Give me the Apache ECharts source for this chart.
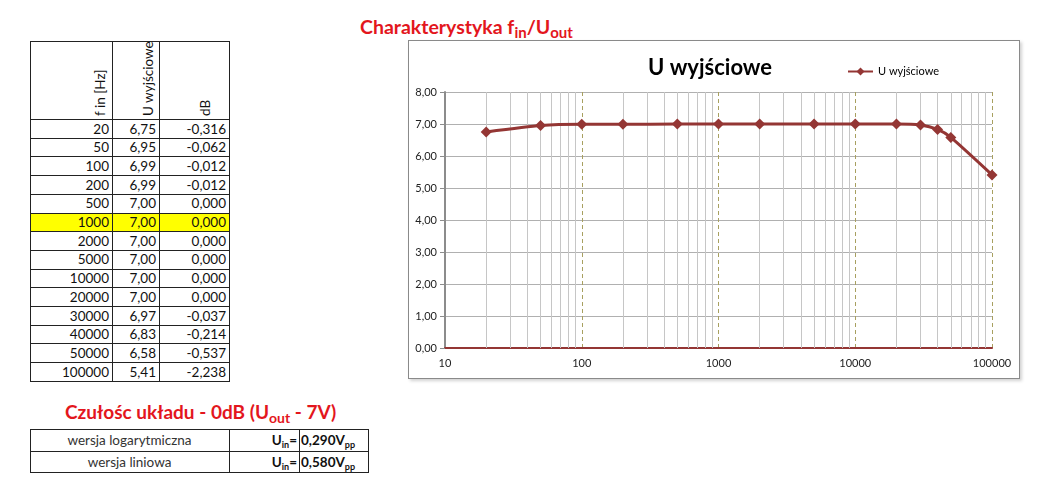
<!DOCTYPE html>
<html><head><meta charset="utf-8">
<script src="https://cdn.jsdelivr.net/npm/echarts@6/dist/echarts.min.js"></script>
<style>
body{margin:0;background:#fff;font-family:Lato,'Open Sans',sans-serif;}
#page{position:relative;width:1049px;height:495px;overflow:hidden;background:#fff;}
.red{position:absolute;color:#e3161d;font-weight:bold;font-size:19px;white-space:nowrap;line-height:22px;}
.red sub{font-size:14px;vertical-align:-4px;line-height:0;}
.hl{position:absolute;height:1px;background:#222;}
.vl{position:absolute;width:1px;background:#222;}
.cell{position:absolute;font-size:13.5px;color:#111;white-space:nowrap;line-height:18px;}
.rot{position:absolute;font-size:13.5px;color:#111;writing-mode:vertical-rl;transform:rotate(180deg);text-align:left;line-height:16px;width:16px;white-space:nowrap;}
.b{font-weight:bold;}
.b sub{font-size:9px;vertical-align:-3px;line-height:0;}
#chart{position:absolute;left:408px;top:40px;width:610px;height:337px;border:1px solid #8a8a8a;box-shadow:2px 2px 3px rgba(0,0,0,0.18);background:#fff;}
</style>
</head><body>
<div id="page">
  <div class="red" style="left:360px;top:16px;font-size:19.5px;">Charakterystyka f<sub style="font-size:15px">in</sub>/U<sub style="font-size:15px">out</sub></div>
  <div class="red" style="left:65px;top:401px;">Czułośc układu - 0dB (U<sub>out</sub> - 7V)</div>
  <div id="tables"></div>
  <div id="chart"></div>
</div>
<script>
// ---- data ----
const freq = [20, 50, 100, 200, 500, 1000, 2000, 5000, 10000, 20000, 30000, 40000, 50000, 100000];
const uOut = [6.75, 6.95, 6.99, 6.99, 7.00, 7.00, 7.00, 7.00, 7.00, 7.00, 6.97, 6.83, 6.58, 5.41];
const dB = [-0.316, -0.062, -0.012, -0.012, 0.000, 0.000, 0.000, 0.000, 0.000, 0.000, -0.037, -0.214, -0.537, -2.238];
const headers = ['f in [Hz]', 'U wyjściowe', 'dB'];
const seriesName = 'U wyjściowe';
const sensLabels = ['wersja logarytmiczna', 'wersja liniowa'];
const sensValues = ['0,290', '0,580'];
const highlightFreq = 1000;

// ---- spreadsheet tables ----
const T = document.getElementById('tables');
function add(cls, style, html) {
  const d = document.createElement('div');
  d.className = cls; d.style.cssText = style; if (html !== undefined) d.innerHTML = html;
  T.appendChild(d); return d;
}
const colX = [30, 112, 159, 229];
const top0 = 41, headBottom = 119, rowH = 18.7;
const tblBottom = headBottom + rowH * freq.length;
const hiIdx = freq.indexOf(highlightFreq);
add('', `position:absolute;background:#ffff00;left:${colX[0]}px;top:${headBottom + rowH * hiIdx}px;width:${colX[3] - colX[0]}px;height:${rowH}px;`);
add('hl', `left:${colX[0]}px;top:${top0}px;width:${colX[3] - colX[0] + 1}px;`);
for (let k = 0; k <= freq.length; k++) {
  add('hl', `left:${colX[0]}px;top:${(headBottom + rowH * k).toFixed(1)}px;width:${colX[3] - colX[0] + 1}px;`);
}
colX.forEach(x => add('vl', `left:${x}px;top:${top0}px;height:${tblBottom - top0}px;`));
const headCx = [100, 148, 205];
headers.forEach((h, i) => add('rot', `left:${headCx[i] - 8}px;top:${top0 + 3}px;height:${headBottom - top0 - 6}px;`, h));
const fmt = (v, d) => v.toFixed(d).replace('.', ',');
freq.forEach((f, i) => {
  const y = headBottom + rowH * i + 0.5;
  const vals = [String(f), fmt(uOut[i], 2), fmt(dB[i], 3)];
  vals.forEach((t, c) => {
    add('cell', `left:${colX[c]}px;width:${colX[c + 1] - colX[c] - 3}px;text-align:right;top:${y}px;`, t);
  });
});
// sensitivity table
const sX = [30, 229, 299, 368], sY = [429, 450.5, 472];
sY.forEach(y => add('hl', `left:${sX[0]}px;top:${y}px;width:${sX[3] - sX[0] + 1}px;`));
sX.forEach(x => add('vl', `left:${x}px;top:${sY[0]}px;height:${sY[2] - sY[0]}px;`));
sensLabels.forEach((lab, i) => {
  const y = sY[i] + 2;
  add('cell', `left:${sX[0]}px;width:${sX[1] - sX[0]}px;text-align:center;top:${y}px;color:#333;`, lab);
  add('cell b', `left:${sX[1]}px;width:${sX[2] - sX[1] - 2}px;text-align:right;top:${y}px;`, 'U<sub>in</sub>=');
  add('cell b', `left:${sX[2] + 2}px;top:${y}px;`, sensValues[i] + 'V<sub>pp</sub>');
});

// ---- chart ----
const minorGrid = [];
[10, 100, 1000, 10000].forEach(d => { for (let m = 2; m <= 9; m++) minorGrid.push(d * m); });
const chart = echarts.init(document.getElementById('chart'));
chart.setOption({
  animation: false,
  textStyle: { fontFamily: 'Lato, sans-serif' },
  title: { text: seriesName, left: 234, top: 11, textStyle: { fontSize: 22, fontWeight: 'bold', color: '#000' } },
  legend: {
    data: [seriesName], left: 433, top: 20, itemWidth: 25, itemHeight: 10, itemGap: 2,
    textStyle: { fontSize: 11, color: '#000' }
  },
  grid: { left: 36, right: 27, top: 51, bottom: 30 },
  xAxis: {
    type: 'log', logBase: 10, min: 10, max: 100000,
    axisLine: { show: true, lineStyle: { color: '#943634', width: 2 } },
    axisTick: { show: false },
    axisLabel: { color: '#222', fontSize: 11, margin: 10, formatter: v => String(Math.round(v)) },
    splitLine: { show: true, lineStyle: { color: '#a8a060', type: [4, 3], width: 1 } },
    minorTick: { show: false }, minorSplitLine: { show: false }
  },
  yAxis: {
    type: 'value', min: 0, max: 8, interval: 1,
    axisLine: { show: true, lineStyle: { color: '#8c8c8c', width: 2 } },
    axisTick: { show: true, length: 5, lineStyle: { color: '#8c8c8c' } },
    axisLabel: { color: '#222', fontSize: 11, margin: 8, formatter: v => fmt(v, 2) },
    splitLine: { show: true, lineStyle: { color: '#b0b0b0', width: 1 } }
  },
  series: [
    {
      type: 'line', name: 'minor', data: [], silent: true, z: 1,
      markLine: {
        silent: true, symbol: 'none', animation: false,
        label: { show: false },
        lineStyle: { color: '#c6c6c6', type: 'solid', width: 1 },
        emphasis: { disabled: true },
        data: minorGrid.map(v => ({ xAxis: v }))
      }
    },
    {
      type: 'line', name: seriesName, z: 5,
      data: freq.map((f, i) => [f, uOut[i]]),
      smooth: 0.2, symbol: 'diamond', symbolSize: 11,
      lineStyle: { color: '#943634', width: 3 },
      itemStyle: { color: '#943634' }
    }
  ]
});
</script>
</body></html>
